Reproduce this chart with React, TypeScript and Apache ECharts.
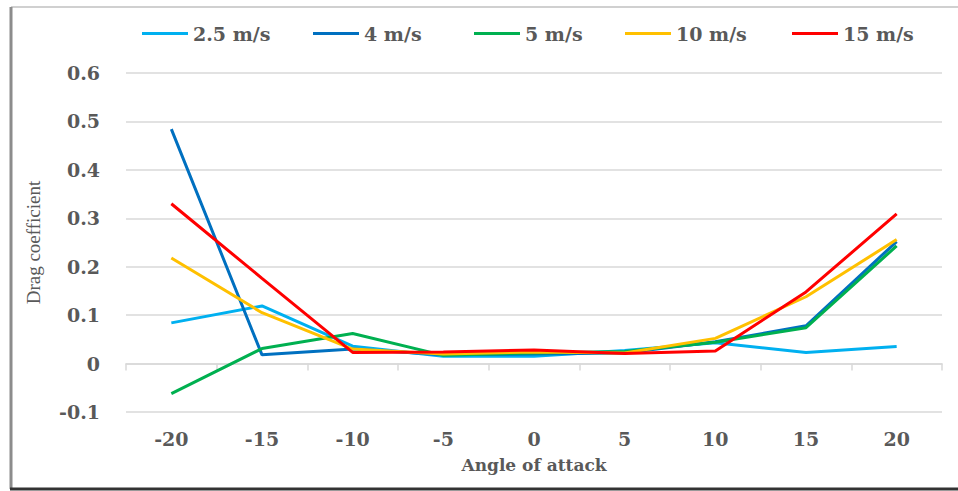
import React, { useEffect, useRef } from "react";
import * as echarts from "echarts";

const angles = ["-20", "-15", "-10", "-5", "0", "5", "10", "15", "20"];
const seriesNames = ["2.5 m/s", "4 m/s", "5 m/s", "10 m/s", "15 m/s"];
const v2_5 = [0.084, 0.119, 0.036, 0.015, 0.015, 0.027, 0.043, 0.023, 0.035];
const v4 = [0.484, 0.018, 0.03, 0.018, 0.02, 0.022, 0.045, 0.078, 0.252];
const v5 = [-0.062, 0.031, 0.062, 0.017, 0.022, 0.025, 0.044, 0.074, 0.243];
const v10 = [0.218, 0.105, 0.03, 0.02, 0.024, 0.022, 0.052, 0.138, 0.256];
const v15 = [0.33, 0.176, 0.023, 0.024, 0.028, 0.021, 0.026, 0.148, 0.309];
const colors = ["#00B0F0", "#0070C0", "#00B050", "#FFC000", "#FF0000"];
const legendLeft = [142, 313, 474, 625, 792];

const allValues = [v2_5, v4, v5, v10, v15];

export default function App() {
  const ref = useRef<HTMLDivElement>(null);
  useEffect(() => {
    if (!ref.current) return;
    const chart = echarts.init(ref.current, null, { renderer: "svg" });
    const tickFont = {
      fontFamily: "DejaVu Serif",
      fontWeight: "bold" as const,
      fontSize: 19,
      color: "#595959",
    };
    chart.setOption({
      animation: false,
      backgroundColor: "#ffffff",
      grid: {
        left: 126,
        right: 16,
        top: 73,
        bottom: 79,
        containLabel: false,
        outerBoundsMode: "none",
      },
      legend: seriesNames.map((n, i) => ({
        data: [n],
        left: legendLeft[i],
        top: 24,
        padding: 0,
        icon: "rect",
        itemWidth: 46,
        itemHeight: 3,
        textStyle: { ...tickFont },
      })),
      xAxis: {
        type: "category",
        data: angles,
        boundaryGap: true,
        name: "Angle of attack",
        nameLocation: "middle",
        nameGap: 44,
        nameTextStyle: {
          fontFamily: "DejaVu Serif",
          fontWeight: "bold",
          fontSize: 17,
          color: "#595959",
        },
        axisLine: { show: true, onZero: true, lineStyle: { color: "#d9d9d9", width: 1.5 } },
        axisTick: { show: true, length: 7, lineStyle: { color: "#d9d9d9", width: 1.5 } },
        axisLabel: { ...tickFont, margin: 17 },
        splitLine: { show: false },
      },
      yAxis: {
        type: "value",
        min: -0.1,
        max: 0.6,
        interval: 0.1,
        name: "Drag coefficient",
        nameLocation: "middle",
        nameGap: 83,
        nameTextStyle: {
          fontFamily: "Liberation Serif",
          fontSize: 19,
          color: "#595959",
        },
        axisLine: { show: false },
        axisTick: { show: false },
        axisLabel: {
          ...tickFont,
          margin: 26,
          formatter: (v: number) => (Math.abs(v) < 1e-9 ? "0" : String(+v.toFixed(1))),
        },
        splitLine: { lineStyle: { color: "#d9d9d9", width: 1.5 } },
      },
      series: seriesNames.map((n, i) => ({
        name: n,
        type: "line",
        data: allValues[i],
        symbol: "none",
        smooth: false,
        lineStyle: { color: colors[i], width: 3 },
        itemStyle: { color: colors[i] },
      })),
      graphic: [
        { type: "line", shape: { x1: 11, y1: 7, x2: 958, y2: 7 }, style: { stroke: "#d0d0d0", lineWidth: 2 } },
        { type: "line", shape: { x1: 11, y1: 7, x2: 11, y2: 489 }, style: { stroke: "#8c8c8c", lineWidth: 3 } },
        { type: "line", shape: { x1: 10, y1: 489, x2: 958, y2: 489 }, style: { stroke: "#333333", lineWidth: 3 } },
      ],
    });
    return () => chart.dispose();
  }, []);
  return (
    <div
      ref={ref}
      style={{ position: "fixed", left: 0, top: 0, width: 958, height: 491 }}
    />
  );
}
